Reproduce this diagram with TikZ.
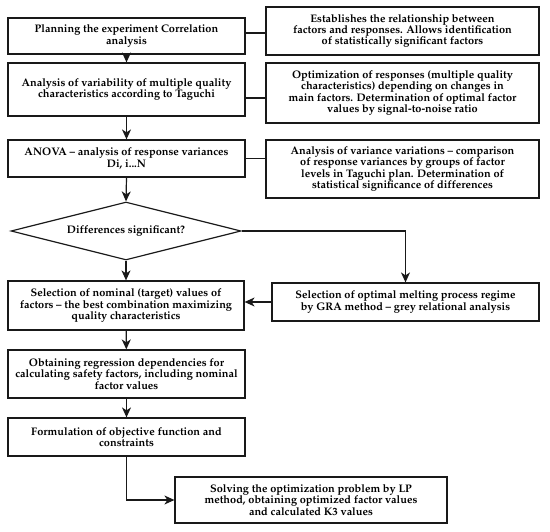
\documentclass[tikz,border=0pt]{standalone}
\usepackage[T1]{fontenc}
\usepackage{mathpazo}
\usetikzlibrary{shapes.geometric,arrows.meta}
\begin{document}
\begin{tikzpicture}[x=1bp,y=-1bp,
  box/.style={draw=black!90, line width=1.2bp, rectangle, inner sep=0pt, align=center,
    font=\fontsize{11}{11.4}\selectfont\bfseries},
  dia/.style={draw=black!90, line width=1.2bp, diamond, inner sep=0pt, aspect=3.97,
    minimum width=230bp, minimum height=58bp, font=\fontsize{11}{11.4}\selectfont\bfseries},
  arr/.style={draw=black!90, line width=1.2bp, -{Stealth[length=10bp,width=9bp,inset=3bp]}},
  ln/.style={draw=black!90, line width=1.2bp}]
\useasboundingbox (0,0) rectangle (550,532);
% left column
\node[box, minimum width=237bp, minimum height=36bp] (B1) at (126.5,36)
  {Planning the experiment Correlation\\analysis};
\node[box, minimum width=237bp, minimum height=53bp] (B2) at (126.5,89.5)
  {Analysis of variability of multiple quality\\characteristics according to Taguchi};
\node[box, minimum width=237bp, minimum height=37bp] (B3) at (126.5,158.5)
  {ANOVA -- analysis of response variances\\Di, i...N};
\node[dia] (D) at (126,231) {Differences significant?};
\node[box, minimum width=236bp, minimum height=49bp] (S) at (126,305.5)
  {Selection of nominal (target) values of\\factors -- the best combination maximizing\\quality characteristics};
\node[box, minimum width=237bp, minimum height=48bp] (O) at (126.5,374)
  {Obtaining regression dependencies for\\calculating safety factors, including nominal\\factor values};
\node[box, minimum width=237bp, minimum height=38bp] (F) at (126.5,437)
  {Formulation of objective function and\\constraints};
% right column
\node[box, minimum width=273bp, minimum height=48bp] (R1) at (402.5,31)
  {Establishes the relationship between\\factors and responses. Allows identification\\of statistically significant factors};
\node[box, minimum width=273bp, minimum height=60bp] (R2) at (402.5,93)
  {Optimization of responses (multiple quality\\characteristics) depending on changes in\\main factors. Determination of optimal factor\\values by signal-to-noise ratio};
\node[box, minimum width=273bp, minimum height=58bp] (R3) at (402.5,169)
  {Analysis of variance variations -- comparison\\of response variances by groups of factor\\levels in Taguchi plan. Determination of\\statistical significance of differences};
\node[box, minimum width=267bp, minimum height=38bp] (G) at (405.5,302)
  {Selection of optimal melting process regime\\by GRA method -- grey relational analysis};
\node[box, minimum width=272bp, minimum height=46bp] (E) at (311,500)
  {Solving the optimization problem by LP\\method, obtaining optimized factor values\\and calculated K3 values};
% connectors
\draw[arr] (B1) -- (B2);
\draw[arr] (B2) -- (B3);
\draw[arr] (B3.south) -- (D.north);
\draw[arr] (D.south) -- (S.north);
\draw[arr] (S) -- (O);
\draw[arr] (O) -- (F);
\draw[arr] (D.east) -| (G.north);
\draw[arr] (G.west) -- (G.west -| S.east);
\draw[arr] (F.south) |- (E.west);
\draw[ln] ([yshift=3bp]B1.east) -- ([yshift=3bp]B1.east -| R1.west);
\draw[ln] ([yshift=-8.5bp]B2.east) -- ([yshift=-8.5bp]B2.east -| R2.west);
\draw[ln] (B3.east) -- (B3.east -| R3.west);
\end{tikzpicture}
\end{document}
